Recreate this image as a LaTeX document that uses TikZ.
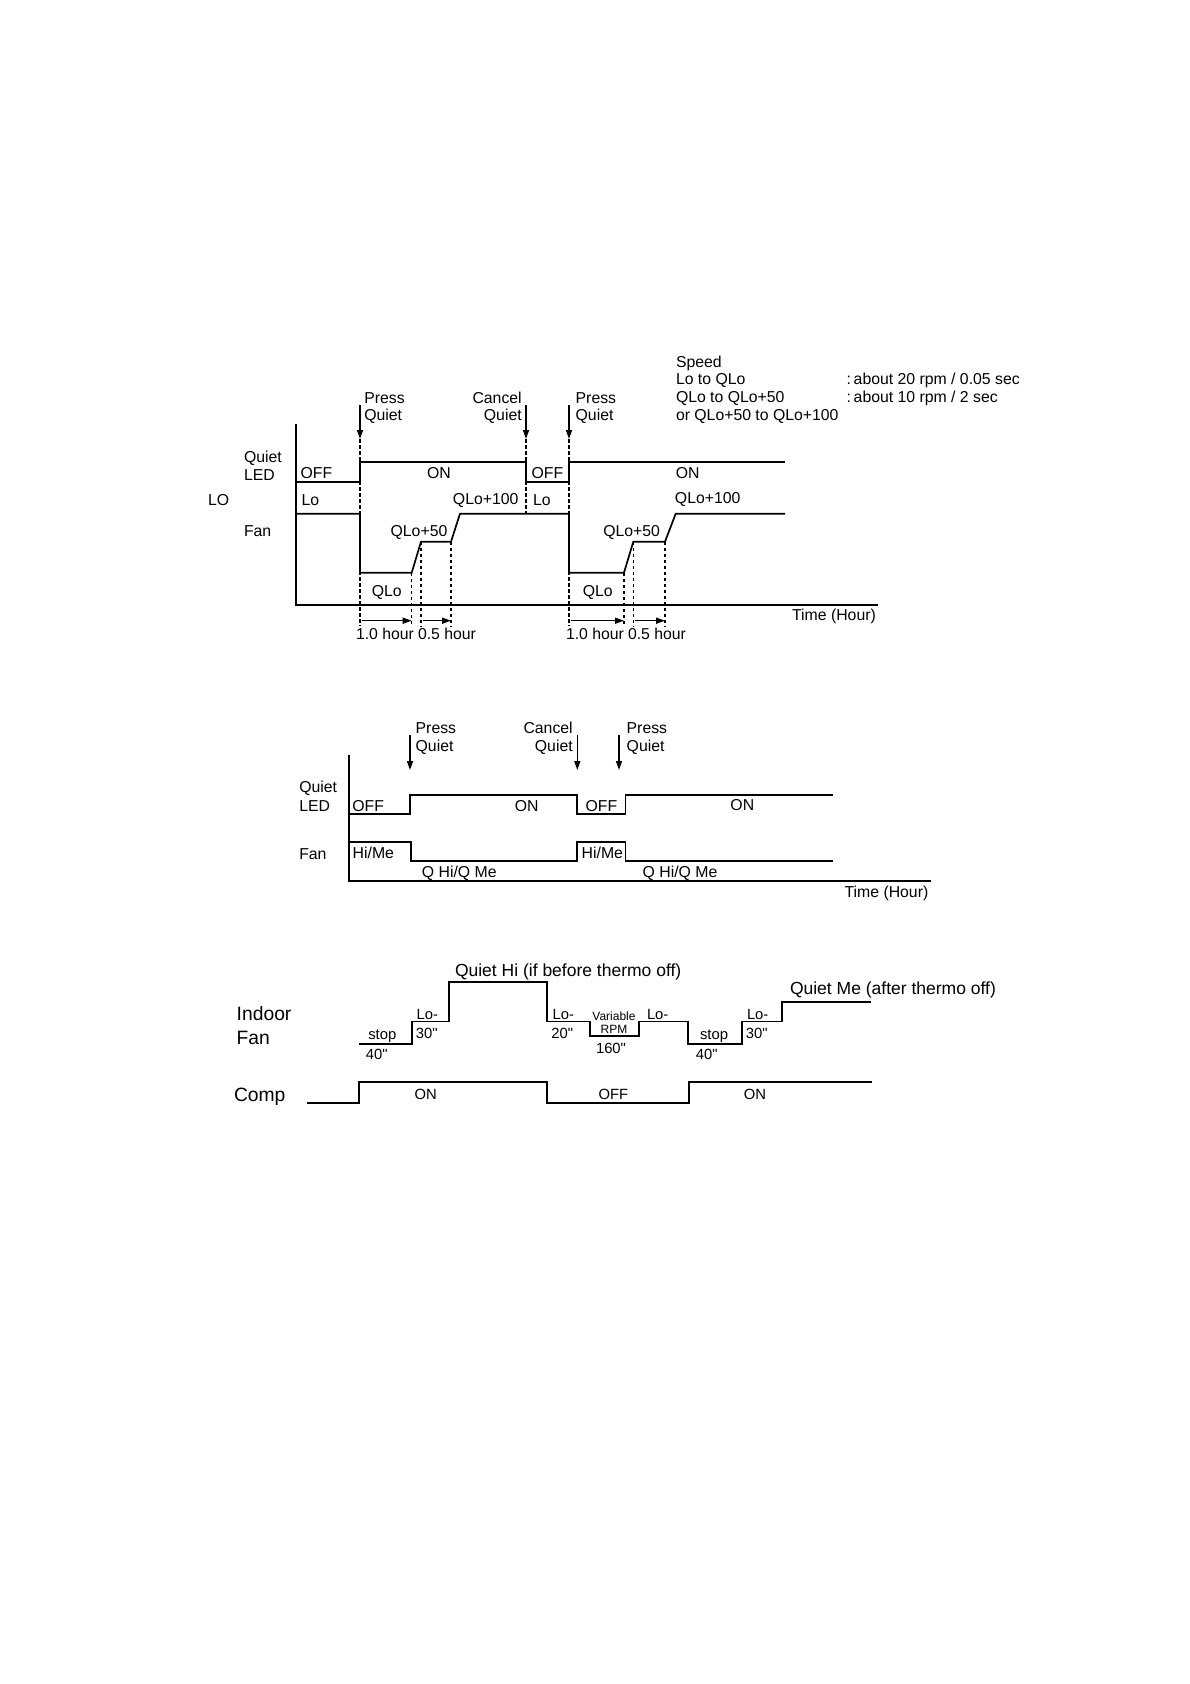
\documentclass[tikz,border=0pt]{standalone}
\usepackage{fontspec}
\setmainfont{Liberation Sans}[Ligatures=TeXOff]
\usetikzlibrary{arrows.meta}
\tikzset{
  wave/.style={line width=1.7pt, line join=miter},
  axis/.style={line width=1.7pt},
  guide/.style={line width=1.3pt, dash pattern=on 3.5pt off 2.5pt},
  press/.style={line width=1.5pt, -{Triangle[length=9pt,width=6pt]}},
  span/.style={line width=1.5pt, -{Triangle[length=9pt,width=6pt]}},
  txt/.style={inner sep=0pt, outer sep=0pt, font=\fontsize{15.8}{17}\selectfont},
  big/.style={inner sep=0pt, outer sep=0pt, font=\fontsize{19.3}{22}\selectfont},
  mid/.style={inner sep=0pt, outer sep=0pt, font=\fontsize{17.5}{20}\selectfont},
  sml/.style={inner sep=0pt, outer sep=0pt, font=\fontsize{14.8}{17}\selectfont},
  tiny/.style={inner sep=0pt, outer sep=0pt, font=\fontsize{12}{13}\selectfont},
}
\begin{document}
\begin{tikzpicture}[x=1pt,y=-1pt]
\useasboundingbox[fill=white] (0,0) rectangle (1190,1684);

%% ===================== Diagram 1 =====================
\draw[axis] (295.7,424) -- (295.7,605.3) -- (878,605.3);
% LED
\draw[wave] (295.7,481.7) -- (360,481.7) -- (360,461.7) -- (526,461.7) -- (526,481.7)
  -- (569,481.7) -- (569,461.7) -- (785,461.7);
% Fan
\draw[wave] (295.7,513.7) -- (360,513.7) -- (360,572.7) -- (411.7,572.7) -- (421,541.7)
  -- (451,541.7) -- (460,513.7) -- (569,513.7) -- (569,572.7) -- (624,572.7)
  -- (633.3,541.7) -- (665,541.7) -- (675.7,513.7) -- (785,513.7);
% guides
\draw[guide] (360,439) -- (360,626);
\draw[guide] (411.7,572.7) -- (411.7,626);
\draw[guide] (421,541.7) -- (421,626);
\draw[guide] (451,541.7) -- (451,626);
\draw[guide] (526,439) -- (526,513.7);
\draw[guide] (569,439) -- (569,626);
\draw[guide] (624,572.7) -- (624,626);
\draw[guide] (633.3,541.7) -- (633.3,626);
\draw[guide] (665,541.7) -- (665,626);
% press arrows
\coordinate (p1a) at (360,405);   \coordinate (p1b) at (360,439);
\coordinate (c1a) at (526,405);   \coordinate (c1b) at (526,439);
\coordinate (p2a) at (569,405);   \coordinate (p2b) at (569,439);
\draw[press] (p1a) -- (p1b);
\draw[press] (c1a) -- (c1b);
\draw[press] (p2a) -- (p2b);
% span arrows
\coordinate (s1a) at (361.5,620.7); \coordinate (s1b) at (411.7,620.7);
\coordinate (s2a) at (422.5,620.7); \coordinate (s2b) at (451,620.7);
\coordinate (s3a) at (570.5,620.7); \coordinate (s3b) at (624,620.7);
\coordinate (s4a) at (634.8,620.7); \coordinate (s4b) at (665,620.7);
\draw[span] (s1a) -- (s1b);
\draw[span] (s2a) -- (s2b);
\draw[span] (s3a) -- (s3b);
\draw[span] (s4a) -- (s4b);
% labels
\node[txt,anchor=base west] (t1) at (364.3,403.8) {Press};
\node[txt,anchor=base west] (t2) at (364.3,420.5) {Quiet};
\node[txt,anchor=base east] (t3) at (521.7,403.8) {Cancel};
\node[txt,anchor=base east] (t4) at (521.7,420.5) {Quiet};
\node[txt,anchor=base west] (t5) at (575.7,403.8) {Press};
\node[txt,anchor=base west] (t6) at (575.7,420.5) {Quiet};
\node[txt,anchor=base west] (sp1) at (676,367.2) {Speed};
\node[txt,anchor=base west] (sp2) at (676,384.8) {Lo to QLo};
\node[txt,anchor=base west] (sp3) at (676,402.5) {QLo to QLo+50};
\node[txt,anchor=base west] (sp4) at (676,420.2) {or QLo+50 to QLo+100};
\node[txt,anchor=base west] (sp5) at (846.7,384.8) {:\,about 20 rpm / 0.05 sec};
\node[txt,anchor=base west] (sp6) at (846.7,402.5) {:\,about 10 rpm / 2 sec};
\node[txt,anchor=base west] (q1) at (244,462.5) {Quiet};
\node[txt,anchor=base west] (q2) at (244,480.5) {LED};
\node[txt,anchor=base west] (o1) at (300.7,478.5) {OFF};
\node[txt,anchor=base] (o2) at (439,478.5) {ON};
\node[txt,anchor=base west] (o3) at (531.7,478.5) {OFF};
\node[txt,anchor=base] (o4) at (687.7,478.5) {ON};
\node[txt,anchor=base west] (lo0) at (208,505.5) {LO};
\node[txt,anchor=base west] (lo1) at (301.7,505.5) {Lo};
\node[txt,anchor=base] (qh1) at (485.7,504.8) {QLo+100};
\node[txt,anchor=base west] (lo2) at (533,505.5) {Lo};
\node[txt,anchor=base west] (fan1) at (244,536.2) {Fan};
\node[txt,anchor=base] (qm1) at (419,536.2) {QLo+50};
\node[txt,anchor=base] (ql1) at (386.7,596.2) {QLo};
\node[txt,anchor=base] (qh2) at (707.7,503.8) {QLo+100};
\node[txt,anchor=base] (qm2) at (631.7,536.2) {QLo+50};
\node[txt,anchor=base] (ql2) at (597.7,596.2) {QLo};
\node[txt,anchor=base] (h1) at (385,639.5) {1.0 hour};
\node[txt,anchor=base] (h2) at (447,639.5) {0.5 hour};
\node[txt,anchor=base] (h3) at (595,639.5) {1.0 hour};
\node[txt,anchor=base] (h4) at (657,639.5) {0.5 hour};
\node[txt,anchor=base] (tm1) at (834,620.5) {Time (Hour)};

%% ===================== Diagram 2 =====================
\draw[axis] (349,755) -- (349,881) -- (930.7,881);
\draw[wave] (349,813.7) -- (410,813.7) -- (410,794.7) -- (577.3,794.7) -- (577.3,813.7)
  -- (625.5,813.7) -- (625.5,794.7) -- (833.3,794.7);
\draw[wave] (349,842) -- (410.7,842) -- (410.7,861) -- (577.3,861) -- (577.3,842)
  -- (625.5,842) -- (625.5,861) -- (833.3,861);
\coordinate (p3a) at (410,735);   \coordinate (p3b) at (410,770);
\coordinate (c2a) at (577.3,735); \coordinate (c2b) at (577.3,770);
\coordinate (p4a) at (619,735);   \coordinate (p4b) at (619,770);
\draw[press] (p3a) -- (p3b);
\draw[press] (c2a) -- (c2b);
\draw[press] (p4a) -- (p4b);
\node[txt,anchor=base west] (u1) at (415.7,733.8) {Press};
\node[txt,anchor=base west] (u2) at (415.7,751.2) {Quiet};
\node[txt,anchor=base east] (u3) at (572.7,733.8) {Cancel};
\node[txt,anchor=base east] (u4) at (572.7,751.2) {Quiet};
\node[txt,anchor=base west] (u5) at (626.7,733.8) {Press};
\node[txt,anchor=base west] (u6) at (626.7,751.2) {Quiet};
\node[txt,anchor=base west] (v1) at (299.3,792.8) {Quiet};
\node[txt,anchor=base west] (v2) at (299.3,811.2) {LED};
\node[txt,anchor=base west] (v3) at (352.3,811.2) {OFF};
\node[txt,anchor=base] (v4) at (526.7,811.2) {ON};
\node[txt,anchor=base west] (v5) at (585.7,811.2) {OFF};
\node[txt,anchor=base] (v6) at (742.3,810.8) {ON};
\node[txt,anchor=base west] (v7) at (299.3,859.5) {Fan};
\node[txt,anchor=base west] (v8) at (352.7,858.8) {Hi/Me};
\node[txt,anchor=base west] (v9) at (581.7,858.8) {Hi/Me};
\node[txt,anchor=base] (v10) at (459.3,877.8) {Q Hi/Q Me};
\node[txt,anchor=base] (v11) at (680,877.8) {Q Hi/Q Me};
\node[txt,anchor=base east] (v12) at (928.3,897) {Time (Hour)};

%% ===================== Diagram 3 =====================
\draw[wave] (307.3,1102.7) -- (359,1102.7) -- (359,1082.3) -- (547.3,1082.3) -- (547.3,1102.7)
  -- (689,1102.7) -- (689,1082.3) -- (871.7,1082.3);
\draw[wave] (359.3,1043.7) -- (411.7,1043.7) -- (411.7,1021.5) -- (449,1021.5) -- (449,982)
  -- (547.3,982) -- (547.3,1021.5) -- (590,1021.5) -- (590,1036.3) -- (639,1036.3)
  -- (639,1021.5) -- (688.3,1021.5) -- (688.3,1043.7) -- (741.7,1043.7) -- (741.7,1021.5)
  -- (782.3,1021.5) -- (782.3,1001.7) -- (870.7,1001.7);
\node[big,anchor=base west] (w1) at (236.7,1020.3) {Indoor};
\node[big,anchor=base west] (w2) at (236.7,1044.3) {Fan};
\node[big,anchor=base west] (w3) at (234,1101) {Comp};
\node[sml,anchor=base] (w4) at (425.7,1099.4) {ON};
\node[sml,anchor=base] (w5) at (613.3,1099.4) {OFF};
\node[sml,anchor=base] (w6) at (755,1099.4) {ON};
\node[mid,anchor=base west] (w7) at (455,976.5) {Quiet Hi (if before thermo off)};
\node[mid,anchor=base west] (w8) at (790,994) {Quiet Me (after thermo off)};
\node[sml,anchor=base] (w9) at (382.3,1039.5) {stop};
\node[sml,anchor=base] (w10) at (376.7,1059.5) {40"};
\node[sml,anchor=base] (w11) at (427.3,1019.5) {Lo-};
\node[sml,anchor=base] (w12) at (426.7,1038.8) {30"};
\node[sml,anchor=base] (w13) at (563.3,1019) {Lo-};
\node[sml,anchor=base] (w14) at (562.3,1038.2) {20"};
\node[tiny,anchor=base] (w15) at (614,1020.3) {Variable};
\node[tiny,anchor=base] (w16) at (614,1033.6) {RPM};
\node[sml,anchor=base] (w17) at (611,1053.8) {160"};
\node[sml,anchor=base] (w18) at (657.7,1019) {Lo-};
\node[sml,anchor=base] (w19) at (714,1039.5) {stop};
\node[sml,anchor=base] (w20) at (706.7,1059.5) {40"};
\node[sml,anchor=base] (w21) at (757.7,1019) {Lo-};
\node[sml,anchor=base] (w22) at (756.7,1038.2) {30"};
\end{tikzpicture}
\end{document}
